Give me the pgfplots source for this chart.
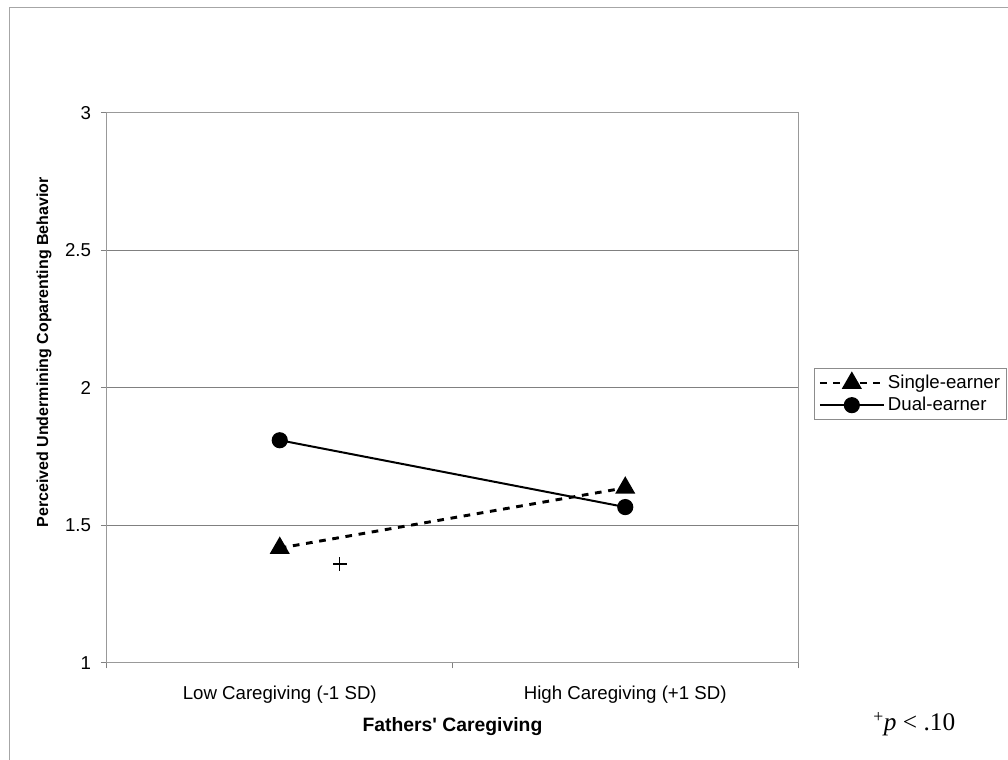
\documentclass[border=0pt]{standalone}
\usepackage{pgfplots}
\pgfplotsset{compat=1.18}
\usepackage{fontspec}
\setmainfont{Liberation Sans}
\newfontfamily\timesfont{Liberation Serif}
\begin{document}
\begin{tikzpicture}
\useasboundingbox (0pt,0pt) rectangle (756pt,570pt);
\draw[black!35, line width=0.75pt] (7.125pt,-10pt) -- (7.125pt,564pt) -- (770pt,564pt);
\begin{axis}[
  at={(80.25pt,72.75pt)}, anchor=south west,
  scale only axis, width=518.25pt, height=412.5pt,
  xmin=-0.5, xmax=1.5, ymin=1, ymax=3,
  xtick={0,1},
  xticklabels={Low Caregiving (-1 SD), High Caregiving (+1 SD)},
  minor xtick={-0.5,0.5,1.5},
  ytick={1,1.5,2,2.5,3},
  yticklabels={1,1.5,2,2.5,3},
  xtick pos=bottom, ytick pos=left,
  tick align=outside,
  major tick length=4.5pt,
  minor tick length=4pt,
  x tick style={draw=none},
  minor x tick style={draw=black!50, line width=0.75pt},
  y tick style={draw=black!50, line width=0.75pt},
  axis line style={draw=black!40, line width=0.75pt},
  ymajorgrids, grid style={draw=black!50, line width=0.75pt},
  tick label style={font=\fontsize{14}{16}\selectfont},
  /pgf/number format/assume math mode=true,
  xticklabel style={yshift=-9pt},
  yticklabel style={xshift=-4pt},
  xlabel={\bfseries Fathers\textquotesingle\ Caregiving},
  xlabel style={at={(axis description cs:0.5,-0.1164)}, anchor=center, font=\fontsize{14.5}{16}\selectfont},
  ylabel={\bfseries Perceived Undermining Coparenting Behavior},
  ylabel style={at={(axis description cs:-0.0912,0.565)}, anchor=center, font=\fontsize{12}{14}\selectfont},
  legend cell align=left,
  legend style={at={(axis description cs:1.0231,0.4418)}, anchor=south west,
    draw=black!45, line width=0.6pt, font=\fontsize{14}{16}\selectfont,
    inner xsep=3pt, inner ysep=3pt, row sep=1pt,
    legend image code/.code={\draw[mark repeat=2,mark phase=2,##1] plot coordinates {(0pt,0pt) (24pt,0pt) (48pt,0pt)};}},
  clip=false,
]
\addplot[black, line width=2.2pt, dash pattern=on 5pt off 5pt, mark=triangle*, mark size=6.5pt, mark options={solid}]
  coordinates {(0,1.418) (1,1.637)};
\addlegendentry{Single-earner}
\addplot[black, line width=1.5pt, mark=*, mark size=5.3pt, mark options={solid}]
  coordinates {(0,1.81) (1,1.567)};
\addlegendentry{Dual-earner}
\addplot[black, only marks, mark=+, mark size=5pt, line width=0.8pt, forget plot]
  coordinates {(0.174,1.36)};
\end{axis}
\node[anchor=west, inner sep=0pt] at (654.75pt,27pt) {\timesfont\fontsize{19}{22}\selectfont\textsuperscript{+}\textit{p} < .10};
\end{tikzpicture}
\end{document}
